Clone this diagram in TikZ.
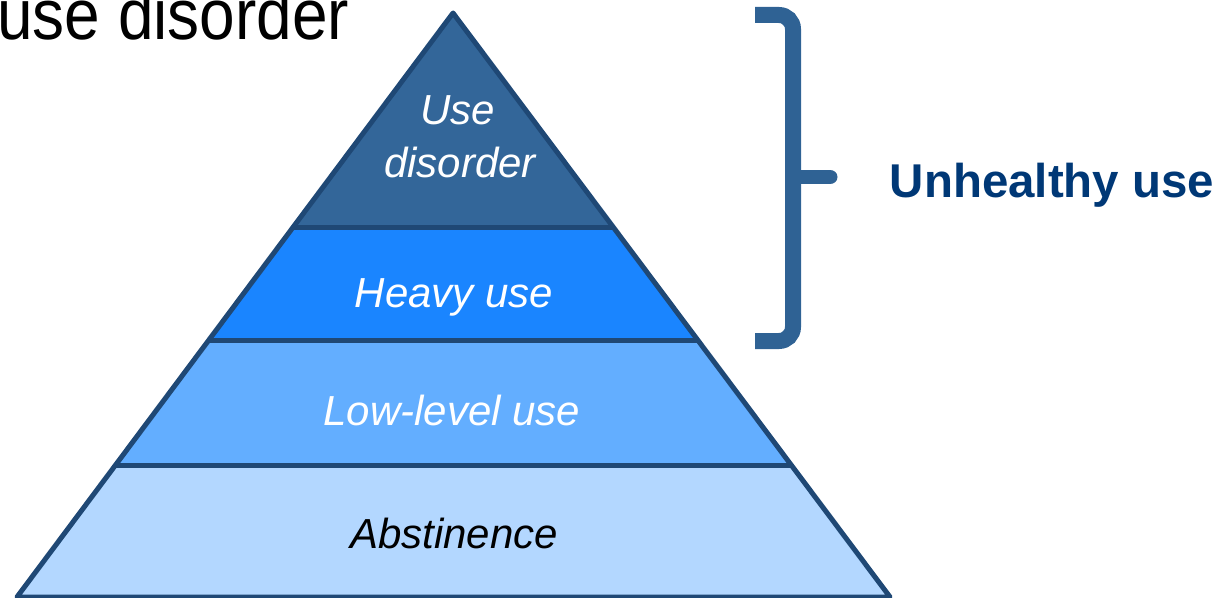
\documentclass[tikz,border=0pt]{standalone}
\usepackage{fontspec}
\setmainfont{Liberation Sans}
\usetikzlibrary{calc}
\definecolor{outlineblue}{RGB}{31,72,117}
\definecolor{disorderblue}{RGB}{51,102,153}
\definecolor{heavyblue}{RGB}{26,133,255}
\definecolor{lowblue}{RGB}{99,174,255}
\definecolor{abstblue}{RGB}{179,215,255}
\definecolor{braceblue}{RGB}{47,98,148}
\definecolor{unhealthyblue}{RGB}{0,56,118}
\tikzset{
  outline/.style={draw=outlineblue, line width=0.1cm, line join=round},
  layertext/.style={
    text=white, anchor=base, inner sep=0pt,
    font=\fontsize{23.9pt}{28pt}\selectfont\itshape
  },
  bracket/.style={draw=braceblue, line width=0.32cm, rounded corners=0.28cm},
}
\begin{document}
\begin{tikzpicture}[x=0.02cm, y=-0.02cm]
  \useasboundingbox (0,0) rectangle (1224,598);
  \coordinate (apex) at (453,13);
  \coordinate (bl)   at (17,597);
  \coordinate (br)   at (890,597);
  % layer boundaries
  \coordinate (l1) at ($(apex)!0.368!(bl)$);  \coordinate (r1) at ($(apex)!0.368!(br)$);
  \coordinate (l2) at ($(apex)!0.5616!(bl)$); \coordinate (r2) at ($(apex)!0.5616!(br)$);
  \coordinate (l3) at ($(apex)!0.774!(bl)$);  \coordinate (r3) at ($(apex)!0.774!(br)$);

  \fill[disorderblue] (apex) -- (r1) -- (l1) -- cycle;
  \fill[heavyblue]    (l1) -- (r1) -- (r2) -- (l2) -- cycle;
  \fill[lowblue]      (l2) -- (r2) -- (r3) -- (l3) -- cycle;
  \fill[abstblue]     (l3) -- (r3) -- (br) -- (bl) -- cycle;
  \draw[outline] (l1) -- (r1);
  \draw[outline] (l2) -- (r2);
  \draw[outline] (l3) -- (r3);
  \draw[outline] (apex) -- (br) -- (bl) -- cycle;

  \node[layertext] (use)      at (458,125) {Use};
  \node[layertext] (disorder) at (460,177) {disorder};
  \node[layertext] (heavy)    at (454,307) {Heavy use};
  \node[layertext] (lowlevel) at (452,425) {Low-level use};
  \node[layertext, text=black] (abst) at (454,548) {Abstinence};

  % brace
  \coordinate (btop) at (755,15);
  \coordinate (bbot) at (755,341);
  \coordinate (bmid) at (793,177);
  \coordinate (btip) at (830,177);
  \draw[bracket] (btop) -- (793,15) -- (bmid) -- (793,341) -- (bbot);
  \draw[braceblue, line width=0.3cm, line cap=round] (bmid) -- (btip);

  \node[anchor=base, inner sep=0pt, text=unhealthyblue,
        font=\fontsize{27pt}{32pt}\selectfont\bfseries] (unhealthy) at (1052,197) {Unhealthy use};
  \node[anchor=base west, inner sep=0pt, yscale=1.12, transform shape,
        font=\fontsize{36.4pt}{40pt}\selectfont] (title) at (-3,40) {use disorder};
\end{tikzpicture}
\end{document}
